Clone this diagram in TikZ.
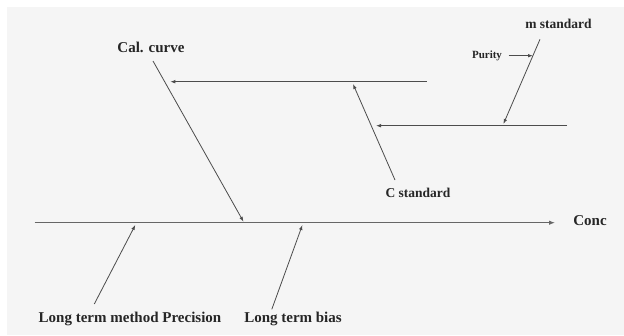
\documentclass[tikz,border=0pt]{standalone}
\usepackage{fontspec}
\setmainfont{Liberation Serif}
\usetikzlibrary{arrows.meta}
\begin{document}
\begin{tikzpicture}[x=1pt,y=-1pt,
  lbl/.style={font=\bfseries\fontsize{15}{18}\selectfont, text=black!85, inner sep=0pt},
  slbl/.style={font=\bfseries\fontsize{13.5}{16}\selectfont, text=black!85, inner sep=0pt},
  tlbl/.style={font=\bfseries\fontsize{11}{13}\selectfont, text=black!85, inner sep=0pt},
  conn/.style={draw=black!70, line width=0.8pt, -{Latex[length=5pt,width=3.6pt]}},
  plain/.style={draw=black!60, line width=1pt}]
\useasboundingbox (0,0) rectangle (624,335);
\fill[white] (0,0) rectangle (624,335);
\fill[black!4] (7,7) rectangle (624,335);
% labels
\node[lbl] (cal) at (151,47) {Cal. curve};
\node[lbl] (conc) at (590,221) {Conc};
\node[lbl] (ltmp) at (130,319) {Long term method Precision};
\node[lbl] (ltb) at (293,319) {Long term bias};
\node[slbl] (mstd) at (558.5,24) {m standard};
\node[slbl] (cstd) at (418,193) {C standard};
\node[tlbl] (pur) at (487,56) {Purity};
% coordinates
\coordinate (spineS) at (34.6,222.7);
\coordinate (spineE) at (555,222.7);
\coordinate (calS) at (153,61);
\coordinate (calE) at (243.5,221.7);
\coordinate (upS) at (426.6,81.7);
\coordinate (upE) at (170.3,81.7);
\coordinate (cS) at (395,180);
\coordinate (cE) at (353,84);
\coordinate (loS) at (567,125.7);
\coordinate (loE) at (376,125.7);
\coordinate (mS) at (540,39.3);
\coordinate (mE) at (503.4,124);
\coordinate (pS) at (508.5,55.7);
\coordinate (pE) at (533,55.7);
\coordinate (pS2) at (94.3,304);
\coordinate (pE2) at (135.3,225);
\coordinate (bS) at (271.8,309.3);
\coordinate (bE) at (302.4,225);
% connectors
\draw[plain, -{Latex[length=6pt,width=4.5pt]}] (spineS) -- (spineE);
\draw[conn] (calS) -- (calE);
\draw[conn] (upS) -- (upE);
\draw[conn] (cS) -- (cE);
\draw[conn] (loS) -- (loE);
\draw[conn] (mS) -- (mE);
\draw[conn] (pS) -- (pE);
\draw[conn] (pS2) -- (pE2);
\draw[conn] (bS) -- (bE);
\end{tikzpicture}
\end{document}
